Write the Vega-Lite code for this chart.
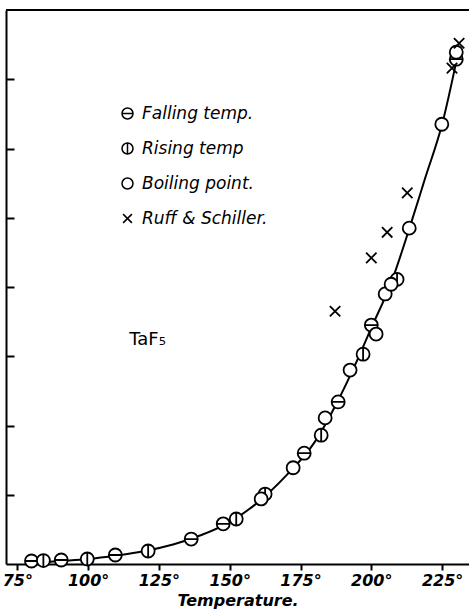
{
  "$schema": "https://vega.github.io/schema/vega-lite/v6.json",
  "width": 463,
  "height": 554,
  "autosize": {"type": "none"},
  "padding": {"left": 6, "top": 10, "right": 0, "bottom": 48},
  "background": "white",
  "config": {"view": {"stroke": null}, "font": "DejaVu Sans"},
  "datasets": {
    "points": [
      {"T": 80, "p": 4.3, "series": "Falling temp."},
      {"T": 90.5, "p": 5.8, "series": "Falling temp."},
      {"T": 109.6, "p": 13, "series": "Falling temp."},
      {"T": 136.4, "p": 36, "series": "Falling temp."},
      {"T": 147.7, "p": 58, "series": "Falling temp."},
      {"T": 176.3, "p": 160, "series": "Falling temp."},
      {"T": 188.3, "p": 234, "series": "Falling temp."},
      {"T": 200, "p": 345, "series": "Falling temp."},
      {"T": 230, "p": 729, "series": "Falling temp."},
      {"T": 84.2, "p": 5, "series": "Rising temp"},
      {"T": 99.7, "p": 7.2, "series": "Rising temp"},
      {"T": 121.2, "p": 18.8, "series": "Rising temp"},
      {"T": 152.3, "p": 65, "series": "Rising temp"},
      {"T": 162.5, "p": 101, "series": "Rising temp"},
      {"T": 182.3, "p": 186, "series": "Rising temp"},
      {"T": 197.1, "p": 303, "series": "Rising temp"},
      {"T": 209.1, "p": 411, "series": "Rising temp"},
      {"T": 161.1, "p": 94, "series": "Boiling point."},
      {"T": 172.4, "p": 139, "series": "Boiling point."},
      {"T": 183.7, "p": 211, "series": "Boiling point."},
      {"T": 192.5, "p": 280, "series": "Boiling point."},
      {"T": 201.7, "p": 332, "series": "Boiling point."},
      {"T": 204.9, "p": 390, "series": "Boiling point."},
      {"T": 207, "p": 404, "series": "Boiling point."},
      {"T": 213.4, "p": 485, "series": "Boiling point."},
      {"T": 224.9, "p": 635, "series": "Boiling point."},
      {"T": 230, "p": 739, "series": "Boiling point."},
      {"T": 187.2, "p": 365, "series": "Ruff & Schiller."},
      {"T": 200, "p": 442, "series": "Ruff & Schiller."},
      {"T": 205.6, "p": 479, "series": "Ruff & Schiller."},
      {"T": 212.7, "p": 536, "series": "Ruff & Schiller."},
      {"T": 228.5, "p": 716, "series": "Ruff & Schiller."},
      {"T": 231, "p": 752, "series": "Ruff & Schiller."}
    ],
    "curve": [
      {"T": 79, "p": 1.2},
      {"T": 80, "p": 1.4},
      {"T": 90, "p": 4.3},
      {"T": 100, "p": 7.2},
      {"T": 110, "p": 12.3},
      {"T": 120, "p": 18.8},
      {"T": 130, "p": 28.2},
      {"T": 140, "p": 41.9},
      {"T": 150, "p": 60.6},
      {"T": 160, "p": 89.2},
      {"T": 170, "p": 128},
      {"T": 180, "p": 176},
      {"T": 188, "p": 234},
      {"T": 195, "p": 294},
      {"T": 200, "p": 341},
      {"T": 207, "p": 406},
      {"T": 213.4, "p": 484},
      {"T": 219, "p": 557},
      {"T": 225, "p": 635},
      {"T": 230.5, "p": 735}
    ],
    "frame": [
      {"T": 71, "T2": 234.5, "p": 800}
    ],
    "labels": [
      {"T": 121, "p": 323, "text": "TaF₅"}
    ]
  },
  "encoding": {
    "x": {
      "field": "T", "type": "quantitative",
      "scale": {"domain": [71, 234.5], "nice": false, "zero": false},
      "axis": {
        "values": [75, 100, 125, 150, 175, 200, 225],
        "labelExpr": "datum.value + '°'",
        "grid": false,
        "domainColor": "black", "domainWidth": 2,
        "tickColor": "black", "tickWidth": 2, "tickSize": 6,
        "labelFont": "DejaVu Sans", "labelFontStyle": "italic", "labelFontWeight": "bold",
        "labelFontSize": 16, "labelColor": "black", "labelPadding": 2,
        "title": "Temperature.",
        "titleFont": "DejaVu Sans", "titleFontStyle": "italic", "titleFontWeight": "bold",
        "titleFontSize": 16, "titleColor": "black", "titlePadding": 4
      }
    },
    "y": {
      "field": "p", "type": "quantitative",
      "scale": {"domain": [0, 800], "nice": false},
      "axis": {
        "values": [100, 200, 300, 400, 500, 600, 700],
        "labels": false, "grid": false, "title": null,
        "domainColor": "black", "domainWidth": 2,
        "tickColor": "black", "tickWidth": 2, "tickSize": -8
      }
    }
  },
  "layer": [
    {
      "data": {"name": "frame"},
      "mark": {"type": "rule", "color": "black", "strokeWidth": 2},
      "encoding": {
        "x2": {"field": "T2"}
      }
    },
    {
      "data": {"name": "curve"},
      "mark": {"type": "line", "color": "black", "strokeWidth": 2, "interpolate": "monotone"}
    },
    {
      "data": {"name": "points"},
      "mark": {"type": "point", "filled": true, "fill": "white", "stroke": "black", "strokeWidth": 1.8, "opacity": 1, "size": 169},
      "encoding": {
        "shape": {
          "field": "series", "type": "nominal",
          "scale": {
            "domain": ["Falling temp.", "Rising temp", "Boiling point.", "Ruff & Schiller."],
            "range": [
              "M-1,0A1,1,0,1,1,1,0A1,1,0,1,1,-1,0ZM-1,0L1,0",
              "M-1,0A1,1,0,1,1,1,0A1,1,0,1,1,-1,0ZM0,-1L0,1",
              "circle",
              "M-0.8,-0.8L0.8,0.8M-0.8,0.8L0.8,-0.8"
            ]
          },
          "legend": {
            "title": null,
            "orient": "none",
            "legendX": 113,
            "legendY": 95,
            "labelFont": "DejaVu Sans",
            "labelFontStyle": "italic",
            "labelFontSize": 17,
            "labelColor": "black",
            "labelOffset": 6,
            "symbolSize": 121,
            "rowPadding": 17,
            "padding": 0,
            "encode": {
              "symbols": {
                "update": {
                  "stroke": {"value": "black"},
                  "strokeWidth": {"value": 1.8},
                  "fill": {"value": "white"},
                  "opacity": {"value": 1}
                }
              }
            }
          }
        }
      }
    },
    {
      "data": {"name": "labels"},
      "mark": {"type": "text", "font": "DejaVu Sans", "fontSize": 18, "color": "black", "align": "center", "baseline": "middle"},
      "encoding": {
        "text": {"field": "text"}
      }
    }
  ]
}
